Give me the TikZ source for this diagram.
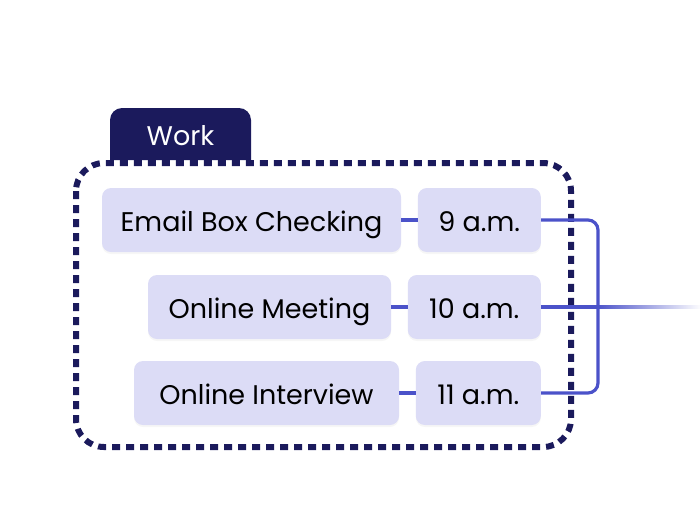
\documentclass[tikz,border=0pt]{standalone}
\usepackage{fontspec}
\setmainfont{Poppins}
\usetikzlibrary{positioning, shadows, fadings}
\definecolor{worknavy}{HTML}{1B1A5C}
\definecolor{tasklav}{HTML}{DCDCF6}
\definecolor{linkblue}{HTML}{4B52C9}

\begin{document}
\begin{tikzpicture}[x=1pt, y=-1pt,
        task/.style = {rectangle, fill=tasklav, rounded corners=9pt, minimum height=64pt,
                       font=\fontsize{27}{32}\selectfont, text=black,
                       text height=23pt, text depth=0pt,
                       drop shadow={opacity=0.07, shadow xshift=0pt, shadow yshift=-2pt}},
        hour/.style = {task, anchor=east},
        link/.style = {draw=linkblue, line width=3.2pt},
                        ]
\useasboundingbox (0,0) rectangle (700,520);
% tab of the group
\fill[worknavy] (110,160) [rounded corners=12pt] -- (110,108) -- (251,108) [sharp corners] -- (251,160) -- cycle;
\node (work) [text=white, font=\fontsize{27}{32}\selectfont, text height=23pt, text depth=0pt]
     at (180.5,134) {Work};
% dashed frame
\draw[worknavy, line width=6pt, dash pattern=on 8pt off 6pt, rounded corners=28pt]
     (76,163) rectangle (571,447);
% tasks
\node (email)     [task, minimum width=299pt] at (251.5,220) {Email Box Checking};
\node (meeting)   [task, minimum width=243pt] at (269.5,307) {Online Meeting};
\node (interview) [task, minimum width=265pt] at (266.5,393) {Online Interview};
\node (nine)   [hour, minimum width=123pt] at (541,220) {9 a.m.};
\node (ten)    [hour, minimum width=133pt] at (541,307) {10 a.m.};
\node (eleven) [hour, minimum width=125pt] at (541,393) {11 a.m.};
% connectors
\coordinate (joint) at (598,307);
\coordinate (exit) at (700,307);
\draw[link] (email) -- (nine);
\draw[link] (meeting) -- (ten);
\draw[link] (interview) -- (eleven);
\draw[link, rounded corners=10pt] (nine.east) -| (joint) |- (eleven.east);
\draw[link] (ten) -- (joint);
\draw[link, path fading=east] (joint) -- (exit);
\end{tikzpicture}
\end{document}
